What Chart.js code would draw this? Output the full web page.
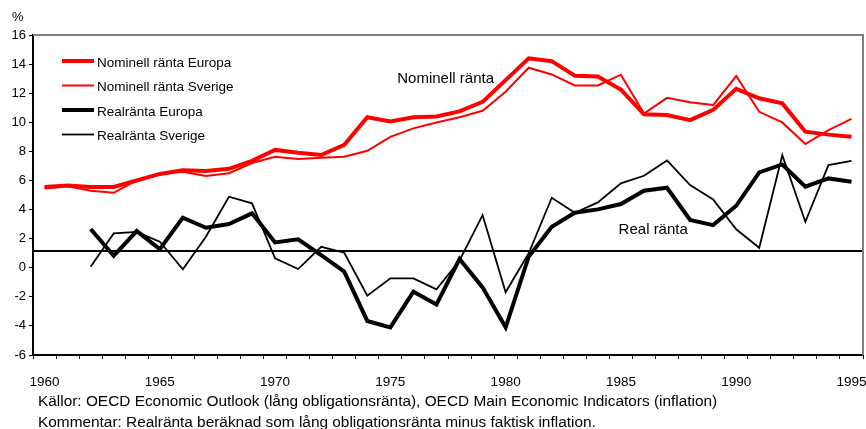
<!DOCTYPE html>
<html>
<head>
<meta charset="utf-8">
<script src="https://cdn.jsdelivr.net/npm/chart.js@4/dist/chart.umd.min.js"></script>
<style>
    body { margin: 0; background: #fff; }
    #wrap { position: relative; width: 866px; height: 429px; overflow: hidden; font-family: "Liberation Sans", Arial, sans-serif; color: #000; }
    #chart { position: absolute; left: 0; top: 0; }
    .note { position: absolute; font-size: 15.4px; line-height: 18px; white-space: nowrap; }
</style>
</head>
<body>
<div id="wrap">
    <canvas id="chart" width="866" height="429"></canvas>
    <div class="note" style="left:12px; top:9px; font-size:13px; line-height:16px;">%</div>
    <div class="note" style="left:38px; top:392px;">Källor: OECD Economic Outlook (lång obligationsränta), OECD Main Economic Indicators (inflation)</div>
    <div class="note" style="left:38px; top:413px;">Kommentar: Realränta beräknad som lång obligationsränta minus faktisk inflation.</div>
</div>
<script>
// Nominell och real ränta, Europa och Sverige 1960-1995

const years = ['1960', '1961', '1962', '1963', '1964', '1965', '1966', '1967', '1968', '1969',
    '1970', '1971', '1972', '1973', '1974', '1975', '1976', '1977', '1978', '1979',
    '1980', '1981', '1982', '1983', '1984', '1985', '1986', '1987', '1988', '1989',
    '1990', '1991', '1992', '1993', '1994', '1995'];

const nominalEurope = [5.55, 5.65, 5.55, 5.55, 6.0, 6.45, 6.7, 6.65, 6.8, 7.35,
    8.1, 7.9, 7.75, 8.45, 10.35, 10.05, 10.35, 10.4, 10.75, 11.4,
    12.9, 14.4, 14.2, 13.2, 13.15, 12.25, 10.55, 10.5, 10.15, 10.85,
    12.3, 11.65, 11.3, 9.35, 9.15, 9.0];

const nominalSweden = [5.45, 5.6, 5.3, 5.15, 6.0, 6.45, 6.6, 6.3, 6.5, 7.2,
    7.63, 7.47, 7.56, 7.63, 8.04, 9.0, 9.58, 9.99, 10.35, 10.79,
    12.1, 13.75, 13.29, 12.53, 12.53, 13.27, 10.6, 11.68, 11.37, 11.18,
    13.18, 10.72, 9.99, 8.5, 9.46, 10.24];

const realEurope = [null, null, 2.66, 0.82, 2.52, 1.28, 3.44, 2.75, 3.0, 3.74,
    1.74, 1.95, 0.87, -0.27, -3.66, -4.1, -1.65, -2.52, 0.6, -1.35,
    -4.1, 0.76, 2.82, 3.78, 4.01, 4.38, 5.29, 5.5, 3.28, 2.93,
    4.26, 6.56, 7.1, 5.57, 6.14, 5.91];

const realSweden = [null, null, 0.07, 2.36, 2.47, 1.79, -0.11, 2.13, 4.88, 4.43,
    0.64, -0.09, 1.44, 1.03, -1.92, -0.73, -0.73, -1.49, 0.5, 3.62,
    -1.69, 0.99, 4.81, 3.78, 4.49, 5.8, 6.32, 7.38, 5.68, 4.7,
    2.64, 1.37, 7.74, 3.16, 7.06, 7.35];

// reference level drawn as a horizontal line
const refLevel = 1.15;

const fontFamily = '"Liberation Sans", Arial, sans-serif';

// Frame (grey top/right), reference line, legend and text labels inside the plot
const decorations = {
    id: 'decorations',
    beforeDatasetsDraw(chart) {
        const { ctx, chartArea: a, scales } = chart;
        const y = scales.y.getPixelForValue(refLevel);
        ctx.save();
        ctx.strokeStyle = '#000';
        ctx.lineWidth = 2;
        ctx.beginPath();
        ctx.moveTo(a.left, y);
        ctx.lineTo(a.right, y);
        ctx.stroke();
        ctx.restore();
    },
    afterDatasetsDraw(chart) {
        const { ctx, chartArea: a, scales } = chart;
        ctx.save();

        // grey frame on top and right
        ctx.strokeStyle = '#808080';
        ctx.lineWidth = 2;
        ctx.beginPath();
        ctx.moveTo(a.left, a.top);
        ctx.lineTo(a.right, a.top);
        ctx.lineTo(a.right, a.bottom);
        ctx.stroke();

        // legend
        ctx.font = '13.5px ' + fontFamily;
        ctx.textBaseline = 'middle';
        ctx.fillStyle = '#000';
        chart.data.datasets.forEach((ds, i) => {
            const ly = a.top + 26 + i * 24.5;
            ctx.strokeStyle = ds.borderColor;
            ctx.lineWidth = ds.borderWidth;
            ctx.beginPath();
            ctx.moveTo(a.left + 29, ly);
            ctx.lineTo(a.left + 61, ly);
            ctx.stroke();
            ctx.fillText(ds.label, a.left + 64, ly + 2);
        });

        // series labels
        ctx.font = '15px ' + fontFamily;
        ctx.fillText('Nominell ränta', scales.x.getPixelForValue(15.3), scales.y.getPixelForValue(13.0));
        ctx.fillText('Real ränta', scales.x.getPixelForValue(24.9), scales.y.getPixelForValue(2.6));
        ctx.restore();
    }
};

new Chart(document.getElementById('chart'), {
    type: 'line',
    data: {
        labels: years,
        datasets: [
            { label: 'Nominell ränta Europa', data: nominalEurope, borderColor: '#ff0000', borderWidth: 4 },
            { label: 'Nominell ränta Sverige', data: nominalSweden, borderColor: '#ff0000', borderWidth: 2 },
            { label: 'Realränta Europa', data: realEurope, borderColor: '#000000', borderWidth: 4 },
            { label: 'Realränta Sverige', data: realSweden, borderColor: '#000000', borderWidth: 1.8 }
        ]
    },
    options: {
        responsive: false,
        animation: false,
        elements: {
            point: { radius: 0 },
            line: { tension: 0, fill: false }
        },
        layout: { padding: { top: 35, right: 3, bottom: 39, left: 0 } },
        plugins: {
            legend: { display: false },
            tooltip: { enabled: false }
        },
        scales: {
            x: {
                type: 'category',
                offset: true,
                // let the last year label run to the canvas edge, like the original
                afterFit: s => { s.height = 35; s.paddingLeft = 0; s.paddingRight = 0; },
                border: { color: '#000', width: 2 },
                grid: {
                    offset: true,
                    drawOnChartArea: false,
                    drawTicks: true,
                    tickLength: 4,
                    tickColor: '#000'
                },
                ticks: {
                    color: '#000',
                    autoSkip: false,
                    maxRotation: 0,
                    padding: 15,
                    font: { family: fontFamily, size: 13.5 },
                    // label only every fifth year
                    callback: function(value, index) {
                        const lbl = this.getLabelForValue(value);
                        return Number(lbl) % 5 === 0 ? lbl : '';
                    }
                }
            },
            y: {
                min: -6,
                max: 16,
                afterFit: s => { s.width = 33; },
                border: { color: '#000', width: 2 },
                grid: {
                    drawOnChartArea: false,
                    drawTicks: true,
                    tickLength: 4,
                    tickColor: '#000'
                },
                ticks: {
                    stepSize: 2,
                    color: '#000',
                    padding: 3,
                    font: { family: fontFamily, size: 13 }
                }
            }
        }
    },
    plugins: [decorations]
});
</script>
</body>
</html>
